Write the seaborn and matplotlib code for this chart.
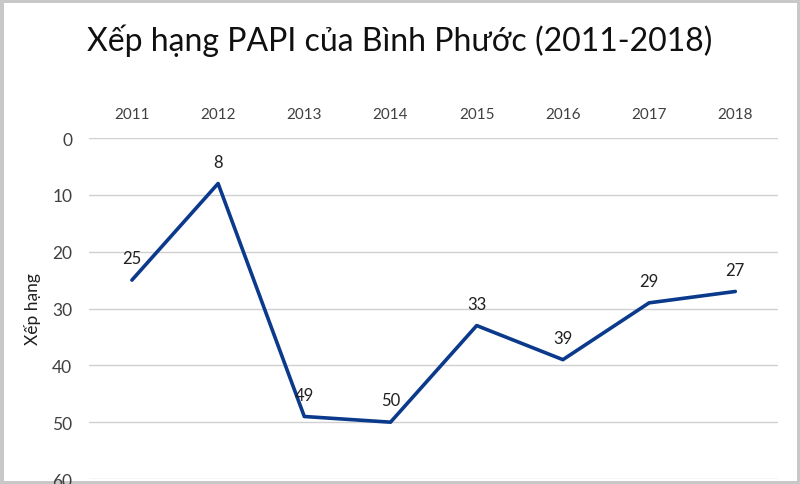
import matplotlib.pyplot as plt
import seaborn as sns
import pandas as pd

# Dữ liệu xếp hạng PAPI
years = ["2011", "2012", "2013", "2014", "2015", "2016", "2017", "2018"]
ranks = [25, 8, 49, 50, 33, 39, 29, 27]
y_ticks = [0, 10, 20, 30, 40, 50, 60]

df = pd.DataFrame({"year": years, "rank": ranks})

sns.set_theme(style="white")
plt.rcParams["font.family"] = ["Lato", "DejaVu Sans"]

fig = plt.figure(figsize=(8, 4.85), dpi=100)
fig.patch.set_edgecolor("#c8c8c8")
fig.patch.set_linewidth(5)

ax = fig.add_axes([0.111, 0.0103, 0.862, 0.703])
sns.lineplot(data=df, x="year", y="rank", sort=False, color="#0b3a8c",
             linewidth=2.6, ax=ax)

ax.set_xlim(-0.5, len(years) - 0.5)
ax.set_ylim(60, 0)
ax.set_yticks(y_ticks)
ax.yaxis.grid(True, color="#d0d0d0", linewidth=1)
ax.xaxis.tick_top()
ax.tick_params(axis="x", length=0, pad=12, labelsize=11, colors="#404040")
ax.tick_params(axis="y", length=0, pad=12, labelsize=12.5, colors="#404040")
for s in ax.spines.values():
    s.set_visible(False)

ax.set_xlabel("")
ax.set_ylabel("Xếp hạng", fontsize=12.5, color="#202020", labelpad=8)

for i, r in enumerate(ranks):
    ax.annotate(str(r), (i, r), xytext=(0, 10), textcoords="offset points",
                ha="center", va="bottom", fontsize=12, color="#202020")

fig.text(0.5, 0.915, "Xếp hạng PAPI của Bình Phước (2011-2018)",
         ha="center", va="center", fontsize=23, color="#101010")

fig.savefig("out.png", dpi=100)
